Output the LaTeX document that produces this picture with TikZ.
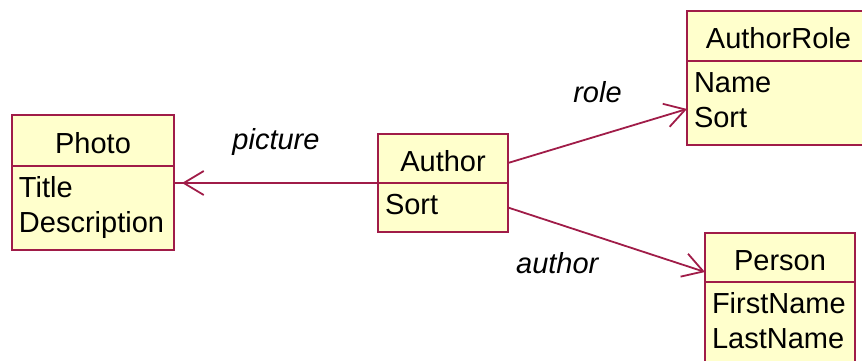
\documentclass[tikz,border=0pt]{standalone}
\usepackage{fontspec}
\setmainfont{Liberation Sans}
\usetikzlibrary{arrows.meta}
\definecolor{umlline}{RGB}{160,28,72}
\definecolor{umlfill}{RGB}{255,255,204}
\newcommand{\umlfont}{\fontsize{29}{35}\selectfont}

\begin{document}
\begin{tikzpicture}[x=1pt,y=-1pt,line width=1.8pt,
    cls/.style={draw=umlline,fill=umlfill,font=\umlfont,inner sep=0pt,outer sep=0pt,
      text height=25pt,text depth=0pt},
    attrs/.style={draw=umlline,fill=umlfill,font=\umlfont,anchor=north,align=left,
      inner xsep=7pt,inner ysep=7pt,outer sep=0pt,
      execute at begin node=\strut,execute at end node=\strut},
    assoc/.style={draw=umlline,-{Straight Barb[length=20pt,width=24pt,sep=0pt]}},
    rolename/.style={font=\umlfont\itshape,inner sep=0pt,text height=21pt,text depth=0pt}]
  \useasboundingbox (0,0) rectangle (862,361);

  \node[cls,minimum width=162pt,minimum height=51pt] (photo) at (93,140.5) {Photo};
  \node[attrs,text width=148pt] (photo-attr) at (photo.south) {Title\\Description};

  \node[cls,minimum width=130pt,minimum height=49pt] (author) at (443,158.5) {Author};
  \node[attrs,text width=116pt] (author-attr) at (author.south) {Sort};

  \node[cls,minimum width=183pt,minimum height=50pt] (role) at (778.5,36) {AuthorRole};
  \node[attrs,text width=169pt] (role-attr) at (role.south) {Name\\Sort};

  \node[cls,minimum width=150pt,minimum height=49pt] (person) at (780,257.5) {Person};
  \node[attrs,text width=136pt] (person-attr) at (person.south) {FirstName\\LastName};

  \draw[assoc,-{Straight Barb[length=20pt,width=24pt,sep=0pt]Rectangle[length=8pt,width=1.8pt,sep=0pt]}]
    (author.south west) -- node[rolename,above=33pt] {picture} (photo-attr.east |- author.south west);
  \draw[assoc] ([yshift=-4.5pt]author.east) -- node[rolename,above=33pt] {role} ([yshift=-6pt]role-attr.west);
  \draw[assoc] (author-attr.east) -- node[rolename,below=28pt,pos=0.25] {author} ([yshift=-14.5pt]person.west);
\end{tikzpicture}
\end{document}
